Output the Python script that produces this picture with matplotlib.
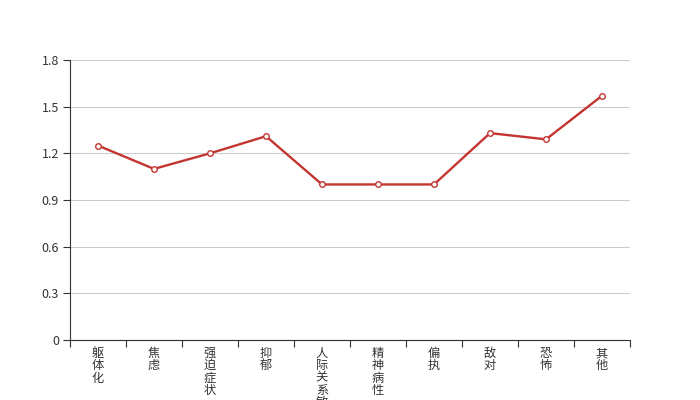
import matplotlib
matplotlib.use("Agg")
import matplotlib.pyplot as plt
import numpy as np

plt.rcParams['font.family'] = ['Noto Sans CJK SC', 'DejaVu Sans']

categories = ["躯体化", "焦虑", "强迫症状", "抑郁", "人际关系敏感", "精神病性", "偏执", "敌对", "恐怖", "其他"]
values = [1.25, 1.10, 1.20, 1.31, 1.00, 1.00, 1.00, 1.33, 1.29, 1.57]
yticks = [0, 0.3, 0.6, 0.9, 1.2, 1.5, 1.8]
ytick_labels = ["0", "0.3", "0.6", "0.9", "1.2", "1.5", "1.8"]

fig = plt.figure(figsize=(7, 4), dpi=100)
ax = fig.add_axes([0.1, 0.15, 0.8, 0.7])

n = len(categories)
x = np.arange(n) + 0.5
ax.plot(x, values, color="#c23531", lw=1.7, marker="o", ms=4,
        mfc="white", mec="#c23531", mew=1, zorder=3, clip_on=False)

ax.set_xlim(0, n)
ax.set_ylim(0, 1.8)
ax.set_yticks(yticks)
ax.set_yticklabels(ytick_labels)
ax.set_xticks(np.arange(n + 1))
ax.set_xticklabels([])
ax.grid(axis="y", color="#cccccc", lw=0.8)
ax.set_axisbelow(True)
for s in ["top", "right"]:
    ax.spines[s].set_visible(False)
for s in ["left", "bottom"]:
    ax.spines[s].set_color("#333333")
ax.tick_params(axis="both", direction="out", length=5, color="#333333",
               labelcolor="#333333", labelsize=9)
ax.tick_params(axis="y", pad=3)

for xi, c in zip(x, categories):
    ax.annotate("\n".join(c), xy=(xi, 0), xycoords=("data", "axes fraction"),
                xytext=(0, -5), textcoords="offset points", ha="center", va="top",
                fontsize=8.8, color="#333333", linespacing=0.93,
                annotation_clip=False)

fig.savefig("out.png", dpi=100)
